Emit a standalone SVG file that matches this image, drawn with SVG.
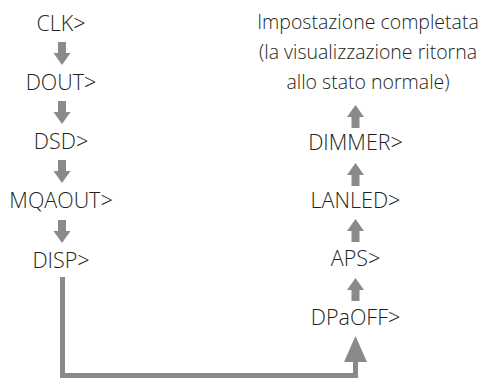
<svg xmlns="http://www.w3.org/2000/svg" width="481" height="379" viewBox="0 0 481 379">
<style>
text{font-family:"Open Sans","Noto Sans","Liberation Sans",sans-serif;font-weight:300;font-size:21.5px;fill:#231f20;text-anchor:middle}
.msg{font-size:19.5px}
.ar{fill:#8a8a8c}
.ln{fill:none;stroke:#8a8a8c;stroke-width:5}
</style>
<defs>
<path id="down" class="ar" d="M-4,0 H4 V11 H8.5 L0,23 L-8.5,11 H-4 Z"/>
<path id="up" class="ar" d="M-4,23 H4 V12 H8.5 L0,0 L-8.5,12 H-4 Z"/>
</defs>
<g id="clk"><text x="61" y="31">CLK&gt;</text></g>
<g id="dout"><text x="61" y="90">DOUT&gt;</text></g>
<g id="dsd"><text x="61" y="149">DSD&gt;</text></g>
<g id="mqaout"><text x="61" y="208">MQAOUT&gt;</text></g>
<g id="disp"><text x="61" y="268">DISP&gt;</text></g>
<g id="done"><text class="msg" x="368" y="29">Impostazione completata</text><text class="msg" x="368" y="59">(la visualizzazione ritorna</text><text class="msg" x="368" y="89">allo stato normale)</text></g>
<g id="dimmer"><text x="355.5" y="150">DIMMER&gt;</text></g>
<g id="lanled"><text x="355.5" y="208">LANLED&gt;</text></g>
<g id="aps"><text x="355.5" y="266">APS&gt;</text></g>
<g id="dpaoff"><text x="355.5" y="325">DPaOFF&gt;</text></g>
<g id="connectors">
<use href="#down" x="62" y="42"/>
<use href="#down" x="62" y="101"/>
<use href="#down" x="62" y="160"/>
<use href="#down" x="62" y="220"/>
<use href="#up" x="355.5" y="105"/>
<use href="#up" x="355.5" y="163"/>
<use href="#up" x="355.5" y="219"/>
<use href="#up" x="355.5" y="278"/>
<path class="ln" d="M62.5,277 V375.5 H355.5 V360"/>
<polygon class="ar" points="344,362 367,362 355.5,336"/>
</g>
</svg>
